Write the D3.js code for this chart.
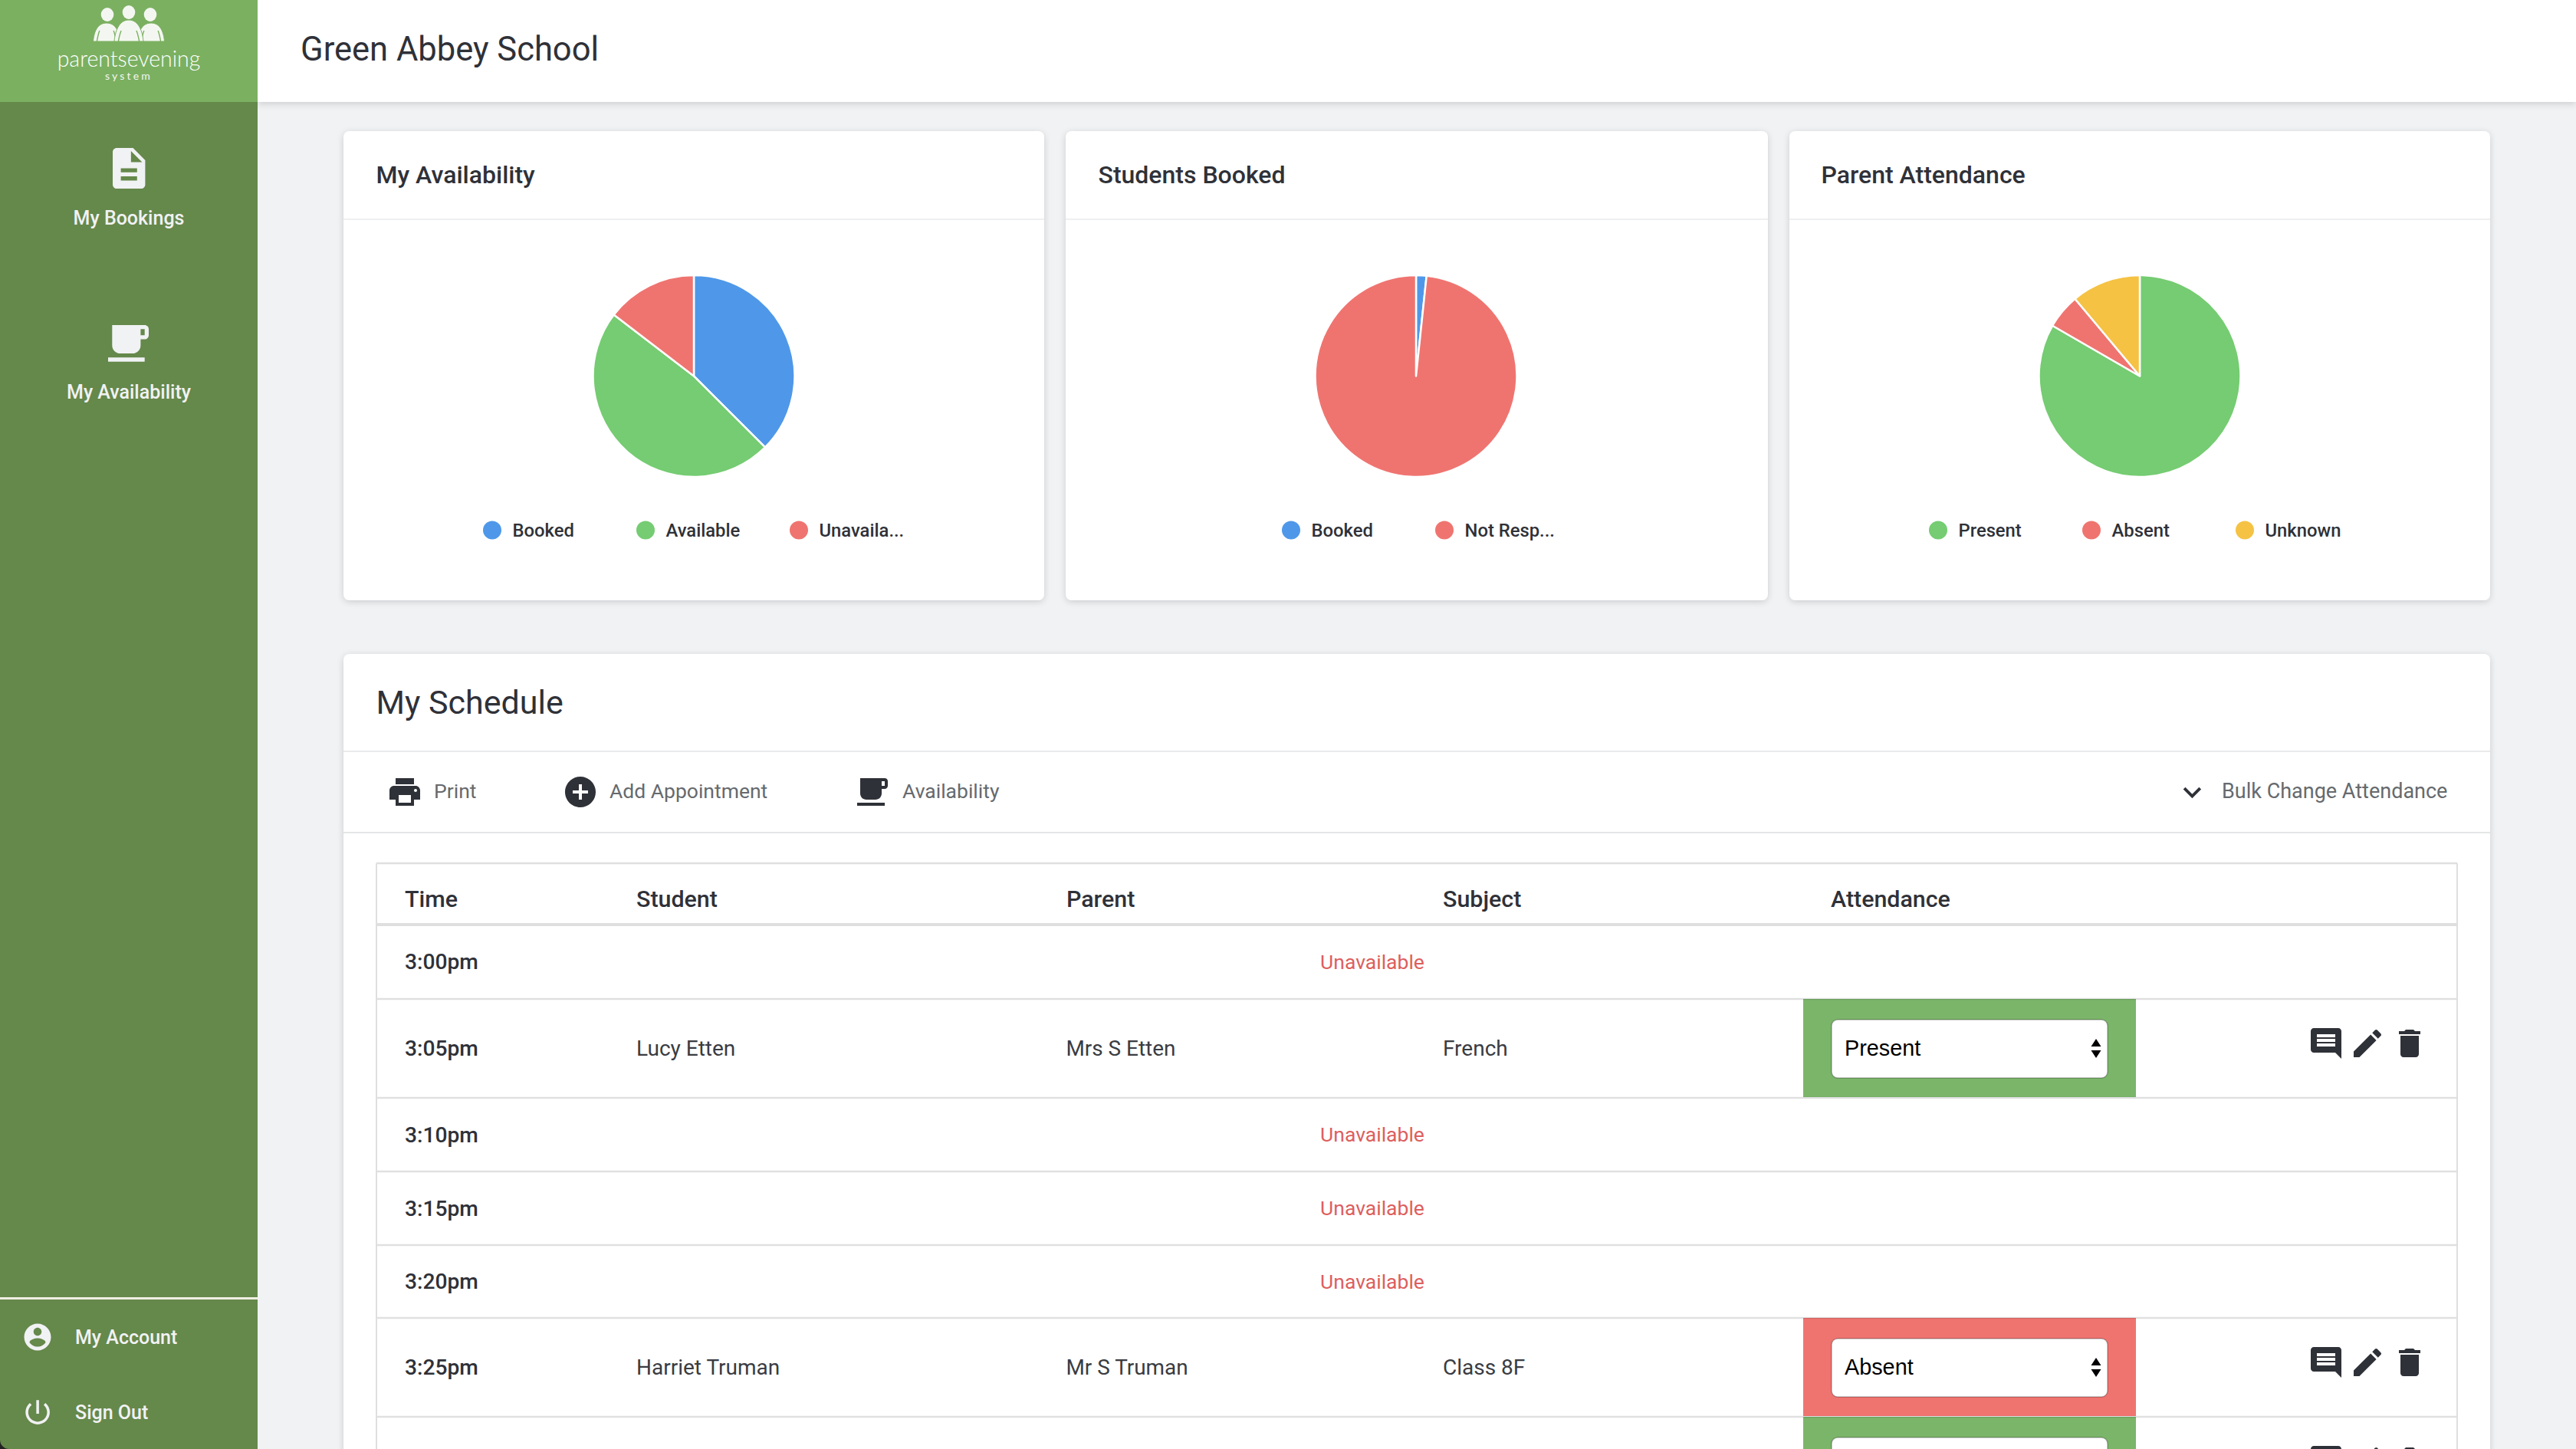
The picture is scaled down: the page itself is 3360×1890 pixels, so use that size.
<!DOCTYPE html>
<html><head><meta charset="utf-8">
<script src="https://cdn.jsdelivr.net/npm/d3@7/dist/d3.min.js"></script>
<style>
html,body{margin:0;padding:0;background:#f1f2f4;overflow:hidden}
svg{display:block}
text{font-family:Roboto,sans-serif}
</style></head><body>
<script>
// ---- data ----
const schoolName = "Green Abbey School";
const navItems = ["My Bookings", "My Availability"];
const footerItems = ["My Account", "Sign Out"];
const pieTitles = ["My Availability", "Students Booked", "Parent Attendance"];
const availabilityLabels = ["Booked", "Available", "Unavaila..."];
const availabilityValues = [18, 23, 7];
const bookedLabels = ["Booked", "Not Resp..."];
const bookedValues = [1, 59];
const attendanceLabels = ["Present", "Absent", "Unknown"];
const attendanceValues = [15, 1, 2];
const toolbarLabels = ["Print", "Add Appointment", "Availability"];
const columnLabels = ["Time", "Student", "Parent", "Subject", "Attendance"];
const times = ["3:00pm", "3:05pm", "3:10pm", "3:15pm", "3:20pm", "3:25pm", ""];
const students = ["", "Lucy Etten", "", "", "", "Harriet Truman", ""];
const parents = ["", "Mrs S Etten", "", "", "", "Mr S Truman", ""];
const subjects = ["", "French", "", "", "", "Class 8F", ""];
const attendance = [null, "Present", null, null, null, "Absent", "Present"];

// ---- palette ----
const blue="#4f98e9", green="#75cc72", red="#ef7470", yellow="#f5c244";
const ink="#2f3138", grey="#666a6e", sideDark="#65884b", sideLight="#7bb061", cellGreen="#7bb56a";
const colourMaps = [
  d3.scaleOrdinal(availabilityLabels,[blue,green,red]),
  d3.scaleOrdinal(bookedLabels,[blue,red]),
  d3.scaleOrdinal(attendanceLabels,[green,red,yellow])
];

// ---- icon glyphs (24-unit grid) ----
const ICON = {
  doc:"M14 2H6c-1.1 0-1.99.9-1.99 2L4 20c0 1.1.89 2 1.99 2H18c1.1 0 2-.9 2-2V8l-6-6zm2 16H8v-2h8v2zm0-4H8v-2h8v2zm-3-5V3.5L18.5 9H13z",
  mug:"M20 3H4v10c0 2.21 1.79 4 4 4h6c2.21 0 4-1.79 4-4v-3h2c1.11 0 2-.89 2-2V5c0-1.11-.89-2-2-2zm0 5h-2V5h2v3zM2 21h18v-2H2v2z",
  print:"M19 8H5c-1.66 0-3 1.34-3 3v6h4v4h12v-4h4v-6c0-1.66-1.34-3-3-3zm-3 11H8v-5h8v5zm3-7c-.55 0-1-.45-1-1s.45-1 1-1 1 .45 1 1-.45 1-1 1zm-1-9H6v4h12V3z",
  add:"M12 2C6.48 2 2 6.48 2 12s4.48 10 10 10 10-4.48 10-10S17.52 2 12 2zm5 11h-4v4h-2v-4H7v-2h4V7h2v4h4v2z",
  chevron:"M16.59 8.59L12 13.17 7.41 8.59 6 10l6 6 6-6z",
  comment:"M21.99 4c0-1.1-.89-2-1.99-2H4c-1.1 0-2 .9-2 2v12c0 1.1.9 2 2 2h14l4 4-.01-18zM18 14H6v-2h12v2zm0-3H6V9h12v2zm0-3H6V6h12v2z",
  edit:"M3 17.25V21h3.75L17.81 9.94l-3.75-3.75L3 17.25zM20.71 7.04c.39-.39.39-1.02 0-1.41l-2.34-2.34c-.39-.39-1.02-.39-1.41 0l-1.83 1.83 3.75 3.75 1.83-1.83z",
  trash:"M6 19c0 1.1.9 2 2 2h8c1.1 0 2-.9 2-2V7H6v12zM19 4h-3.5l-1-1h-5l-1 1H5v2h14V4z",
  account:"M12 2C6.48 2 2 6.48 2 12s4.48 10 10 10 10-4.48 10-10S17.52 2 12 2zm0 3c1.66 0 3 1.34 3 3s-1.34 3-3 3-3-1.34-3-3 1.34-3 3-3zm0 14.2c-2.5 0-4.71-1.28-6-3.22.03-1.99 4-3.08 6-3.08 1.99 0 5.97 1.09 6 3.08-1.29 1.94-3.5 3.22-6 3.22z",
  power:"M13 3h-2v10h2V3zm4.83 2.17l-1.42 1.42C17.99 7.86 19 9.81 19 12c0 3.87-3.13 7-7 7s-7-3.13-7-7c0-2.19 1.01-4.14 2.58-5.42L6.17 5.17C4.23 6.82 3 9.26 3 12c0 4.97 4.03 9 9 9s9-4.03 9-9c0-2.74-1.23-5.18-3.17-6.83z"
};

const W=3360,H=1890;
const svg=d3.select("body").append("svg").attr("width",W).attr("height",H).attr("viewBox",`0 0 ${W} ${H}`);
const defs=svg.append("defs");
const f=defs.append("filter").attr("id","sh").attr("x","-5%").attr("y","-5%").attr("width","110%").attr("height","112%");
f.append("feDropShadow").attr("dx",0).attr("dy",2).attr("stdDeviation",4).attr("flood-color","#000").attr("flood-opacity",.16);
const fh=defs.append("filter").attr("id","shh").attr("x","-1%").attr("y","-10%").attr("width","102%").attr("height","130%");
fh.append("feDropShadow").attr("dx",0).attr("dy",3).attr("stdDeviation",4).attr("flood-color","#000").attr("flood-opacity",.14);

function T(x,y,s,size,weight,fill,anchor,g){
  return (g||svg).append("text").attr("x",x).attr("y",y).text(s)
    .attr("font-size",size).attr("font-weight",weight||400).attr("fill",fill||ink)
    .attr("text-anchor",anchor||"start");
}
function I(name,tx,ty,s,fill){
  return svg.append("path").attr("d",ICON[name]).attr("fill",fill||ink)
    .attr("transform",`translate(${tx},${ty}) scale(${s})`);
}
function L(x1,x2,y,w,c){
  return svg.append("line").attr("x1",x1).attr("x2",x2).attr("y1",y).attr("y2",y)
    .attr("stroke",c||"rgba(0,0,0,.12)").attr("stroke-width",w||2);
}

svg.append("rect").attr("width",W).attr("height",H).attr("fill","#f1f2f4");

// header
svg.append("rect").attr("x",336).attr("y",0).attr("width",W-336).attr("height",133).attr("fill","#fff").attr("filter","url(#shh)");
T(392,78.5,schoolName,43.5,400,ink);

// sidebar
svg.append("rect").attr("x",0).attr("y",0).attr("width",336).attr("height",H).attr("fill",sideDark);
svg.append("rect").attr("x",0).attr("y",0).attr("width",336).attr("height",133).attr("fill",sideLight);
const logoWhite="#f4f7f1";
const logo=svg.append("g");
[[140,19],[168,16],[196,19]].forEach(([cx,hy])=>{
  logo.append("ellipse").attr("cx",cx).attr("cy",hy).attr("rx",8.3).attr("ry",9).attr("fill",logoWhite);
});
// bodies: [centre, half width, shoulder top]
[[139,17.5,30],[197,17.5,30],[168,19,26]].forEach(([cx,hw,top])=>{
  logo.append("path").attr("d",`M${cx-hw},54 C${cx-hw+1},42 ${cx-hw*0.7},${top} ${cx},${top} C${cx+hw*0.7},${top} ${cx+hw-1},42 ${cx+hw},54 Z`)
    .attr("fill",logoWhite).attr("stroke",sideLight).attr("stroke-width",1);
  [-1,1].forEach(s=>logo.append("path")
    .attr("d",`M${cx+s*hw*0.72},54 C${cx+s*hw*0.66},48 ${cx+s*hw*0.6},43 ${cx+s*hw*0.52},40`)
    .attr("fill","none").attr("stroke",sideLight).attr("stroke-width",1.4));
});
T(168,87,"parentsevening",28.5,300,"#fff","middle").style("font-family","Lato, Roboto, sans-serif");
T(168,104,"system",14,400,logoWhite,"middle").attr("letter-spacing",3.2).style("font-family","Lato, Roboto, sans-serif");

const navFill="#f1f2f4";
I("doc",136.4,187.7,2.65,navFill);
T(168,293,navItems[0],25,500,navFill,"middle");
I("mug",135.7,416,2.65,navFill);
T(168,520,navItems[1],25,500,navFill,"middle");
svg.append("rect").attr("x",0).attr("y",1692).attr("width",336).attr("height",3).attr("fill","#f0eee2");
I("account",28,1723,1.75,navFill);
T(98,1753,footerItems[0],25,500,navFill);
I("power",28,1821,1.76,navFill);
T(98,1851,footerItems[1],25,500,navFill);
svg.append("path").attr("d","M0,1878 A12,12 0 0 0 12,1890 L0,1890 Z").attr("fill","#222");

// pie cards
const cards=[
  {x:448,w:914,cx:905,titleX:490.5,labels:availabilityLabels,values:availabilityValues,legendX:[642,842,1042]},
  {x:1390,w:916,cx:1847,titleX:1432.5,labels:bookedLabels,values:bookedValues,legendX:[1684,1884]},
  {x:2334,w:914,cx:2791,titleX:2375.5,labels:attendanceLabels,values:attendanceValues,legendX:[2528,2728,2928]}
];
const pieY=490.5, pieR=131.5, legendY=691.5;
const pie=d3.pie().sort(null);
const arc=d3.arc().innerRadius(0).outerRadius(pieR);
cards.forEach((c,i)=>{
  svg.append("rect").attr("x",c.x).attr("y",171).attr("width",c.w).attr("height",612).attr("rx",8).attr("fill","#fff").attr("filter","url(#sh)");
  L(c.x,c.x+c.w,286,2,"#eff0f2");
  T(c.titleX,238.5,pieTitles[i],32,500,ink);
  const g=svg.append("g").attr("transform",`translate(${c.cx},${pieY})`);
  g.selectAll("path").data(pie(c.values)).join("path")
    .attr("d",arc).attr("fill",(d,k)=>colourMaps[i](c.labels[k])).attr("stroke","#fff").attr("stroke-width",2.5).attr("stroke-linejoin","round");
  c.labels.forEach((lab,k)=>{
    svg.append("circle").attr("cx",c.legendX[k]).attr("cy",legendY).attr("r",12).attr("fill",colourMaps[i](lab));
    T(c.legendX[k]+26.5,legendY+8.5,lab,23.8,500,ink);
  });
});

// schedule card
svg.append("rect").attr("x",448).attr("y",853).attr("width",2800).attr("height",H).attr("rx",8).attr("fill","#fff").attr("filter","url(#sh)");
T(490.5,931,"My Schedule",43,400,ink);
L(448,3248,980,2,"#e9eaec");
L(448,3248,1086,2,"#e4e5e7");
I("print",504,1009,2);
T(566,1041,toolbarLabels[0],26.5,400,grey);
I("add",733,1009,2);
T(795,1041,toolbarLabels[1],26.5,400,grey);
I("mug",1114,1009,2);
T(1177,1041,toolbarLabels[2],26.5,400,grey);
I("chevron",2836,1010,1.95);
T(2898,1041,"Bulk Change Attendance",27,400,grey);

// table
const left=491,right=3205,tableTop=1126;
const rowEdges=[1206,1303,1432,1528,1624,1719,1848,1977];
const colX=[528,830,1391,1882,2388];
const cellX=2352,cellW=434;
columnLabels.forEach((c,i)=>T(colX[i],1182.5,c,30.4,500,ink));
times.forEach((t,i)=>{
  const y0=rowEdges[i],y1=rowEdges[i+1],base=(y0+y1)/2+9.5;
  const a=attendance[i];
  if(a){
    svg.append("rect").attr("x",cellX).attr("y",y0).attr("width",cellW).attr("height",y1-y0-1)
      .attr("fill",a==="Present"?cellGreen:red);
    const sy=y0+27;
    svg.append("rect").attr("x",2389).attr("y",sy).attr("width",360).attr("height",76).attr("rx",8)
      .attr("fill","#fff").attr("stroke","rgba(0,0,0,.28)").attr("stroke-width",1.5);
    if(sy+50<H){
      T(2406,sy+47,a,28.8,400,"#000").style("font-family","'Liberation Sans',Arial,sans-serif");
    }
    svg.append("path").attr("d",`M2734,${sy+25}l6.5,10h-13zM2734,${sy+50}l6.5,-10h-13z`).attr("fill","#000");
    I("comment",3010,y0+34,2);
    I("edit",3064,y0+34,2);
    I("trash",3119,y0+34,2);
  }
  if(t) T(colX[0],base,t,28.2,500,ink);
  if(students[i]) T(colX[1],base,students[i],28,400,"#3a3c42");
  if(parents[i]) T(colX[2]-0.5,base,parents[i],27.9,400,"#3a3c42");
  if(subjects[i]) T(colX[3],base,subjects[i],28,400,"#3a3c42");
  if(t && !a) T(1790,base-0.5,"Unavailable",26.5,400,"#dd5f5d","middle");
});
// table rules
L(left,right,tableTop,2.5,"#dfdfdf");
rowEdges.slice(1,7).forEach(y=>L(left,right,y,2.5));
L(left,right,1206,4,"#dfdfdf");
[left,right].forEach(x=>svg.append("line").attr("x1",x).attr("x2",x).attr("y1",tableTop).attr("y2",H).attr("stroke","#dfdfdf").attr("stroke-width",2));
</script>
</body></html>
